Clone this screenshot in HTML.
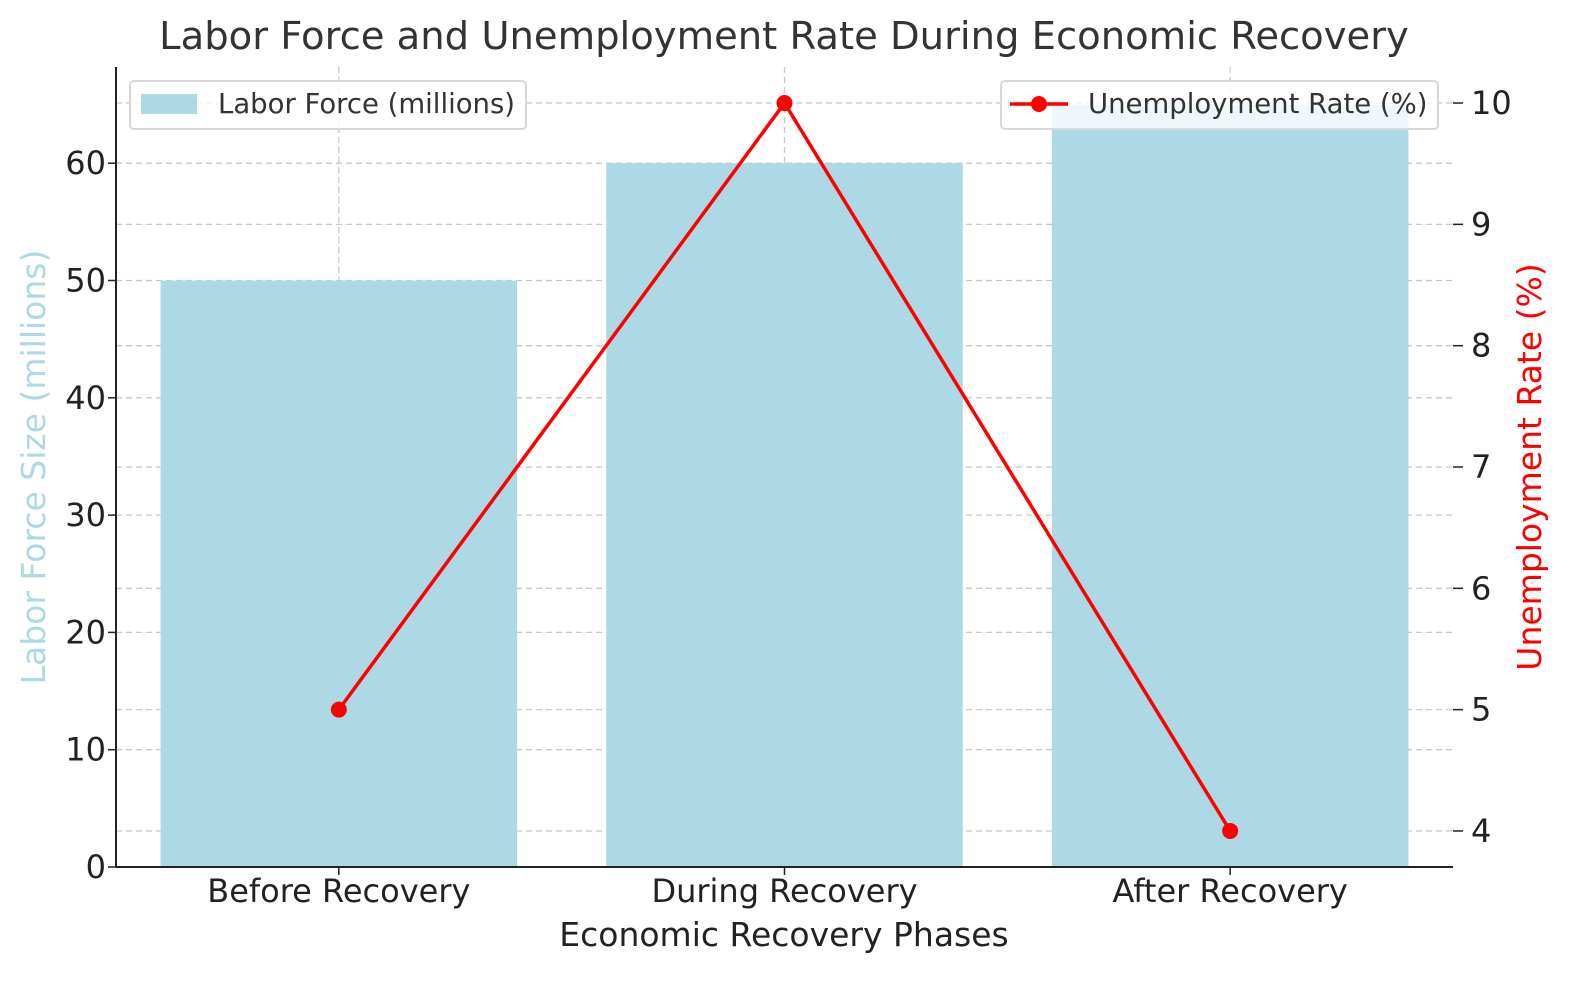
<!DOCTYPE html>
<html><head><meta charset="utf-8"><style>
body{margin:0;background:#fff}
svg text{font-family:"DejaVu Sans","Liberation Sans",sans-serif}
</style></head><body>
<svg id="chart" width="1580" height="980" xmlns="http://www.w3.org/2000/svg">
<g id="grid"></g><g id="bars"></g><g id="axes"></g><g id="line"></g><g id="legend"></g>
</svg>
<script>
const categories=["Before Recovery","During Recovery","After Recovery"];
const laborForce=[50,60,65];
const unemployment=[5,10,4];
const leftTicks=[0,10,20,30,40,50,60];
const rightTicks=[4,5,6,7,8,9,10];
const NS="http://www.w3.org/2000/svg";
const L=116,R=1453,T=67,B=867;
const yL=v=>B-(v/68.2)*(B-T);
const yR=v=>B-(v-3.703)/(10.297-3.703)*(B-T);
const step=(R-L)/3;
const xC=i=>L+step*(i+0.5);
const bw=step*0.8;
function el(tag,attrs,parent,text){const e=document.createElementNS(NS,tag);for(const k in attrs)e.setAttribute(k,attrs[k]);if(text!==undefined)e.textContent=text;document.getElementById(parent).appendChild(e);return e;}
const dash={stroke:"#c8c8c8","stroke-width":1.3,"stroke-dasharray":"6,4"};
leftTicks.forEach(v=>{const g=el("line",Object.assign({x1:L,x2:R,y1:yL(v),y2:yL(v)},dash),"grid");});
rightTicks.forEach(v=>{const g=el("line",Object.assign({x1:L,x2:R,y1:yR(v),y2:yR(v)},dash),"grid");});
categories.forEach((c,i)=>{const g=el("line",Object.assign({x1:xC(i),x2:xC(i),y1:T,y2:B},dash),"grid");});
laborForce.forEach((v,i)=>{const b=el("rect",{x:xC(i)-bw/2,y:yL(v),width:bw,height:B-yL(v),fill:"#add8e6"},"bars");});
let a=el("line",{x1:L,x2:L,y1:T,y2:B,stroke:"#222","stroke-width":2},"axes");
a=el("line",{x1:L,x2:R,y1:B,y2:B,stroke:"#222","stroke-width":2},"axes");
leftTicks.forEach(v=>{el("line",{x1:L-8,x2:L,y1:yL(v),y2:yL(v),stroke:"#222","stroke-width":1.5},"axes");const t=el("text",{x:L-10,y:yL(v)+11,"text-anchor":"end","font-size":32,fill:"#222"},"axes",v);});
rightTicks.forEach(v=>{el("line",{x1:R,x2:R+10,y1:yR(v),y2:yR(v),stroke:"#222","stroke-width":1.5},"axes");const t=el("text",{x:R+18,y:yR(v)+11,"font-size":32,fill:"#222"},"axes",v);});
categories.forEach((c,i)=>{el("line",{x1:xC(i),x2:xC(i),y1:B,y2:B+8,stroke:"#222","stroke-width":1.5},"axes");const t=el("text",{x:xC(i),y:B+35,"text-anchor":"middle","font-size":32,fill:"#222"},"axes",c);});
let t=el("text",{x:784,y:946,"text-anchor":"middle","font-size":33,fill:"#222"},"axes","Economic Recovery Phases");
t=el("text",{x:0,y:0,"text-anchor":"middle","font-size":33,fill:"#add8e6",transform:"translate(45,467) rotate(-90)"},"axes","Labor Force Size (millions)");
t=el("text",{x:0,y:0,"text-anchor":"middle","font-size":33,fill:"#ff0000",transform:"translate(1541,467) rotate(-90)"},"axes","Unemployment Rate (%)");
t=el("text",{x:784,y:49,"text-anchor":"middle","font-size":38.5,fill:"#333"},"axes","Labor Force and Unemployment Rate During Economic Recovery");
const pts=unemployment.map((v,i)=>xC(i)+","+yR(v)).join(" ");
const pl=el("polyline",{points:pts,fill:"none",stroke:"#ff0000","stroke-width":3.5},"line");
unemployment.forEach((v,i)=>{const c=el("circle",{cx:xC(i),cy:yR(v),r:8,fill:"#ff0000"},"line");});
let lg=el("rect",{x:130,y:81,width:396,height:48,rx:4,fill:"rgba(255,255,255,0.8)",stroke:"#d8d8d8","stroke-width":2},"legend");
el("rect",{x:141,y:94,width:56,height:20,fill:"#add8e6"},"legend");
t=el("text",{x:218,y:113,"font-size":27.5,fill:"#333"},"legend","Labor Force (millions)");
lg=el("rect",{x:1001,y:81,width:437,height:48,rx:4,fill:"rgba(255,255,255,0.8)",stroke:"#d8d8d8","stroke-width":2},"legend");
el("line",{x1:1010,x2:1068,y1:104,y2:104,stroke:"#ff0000","stroke-width":3.5},"legend");
el("circle",{cx:1039,cy:104,r:8,fill:"#ff0000"},"legend");
t=el("text",{x:1088,y:113,"font-size":27.5,fill:"#333"},"legend","Unemployment Rate (%)");
</script>
</body></html>
